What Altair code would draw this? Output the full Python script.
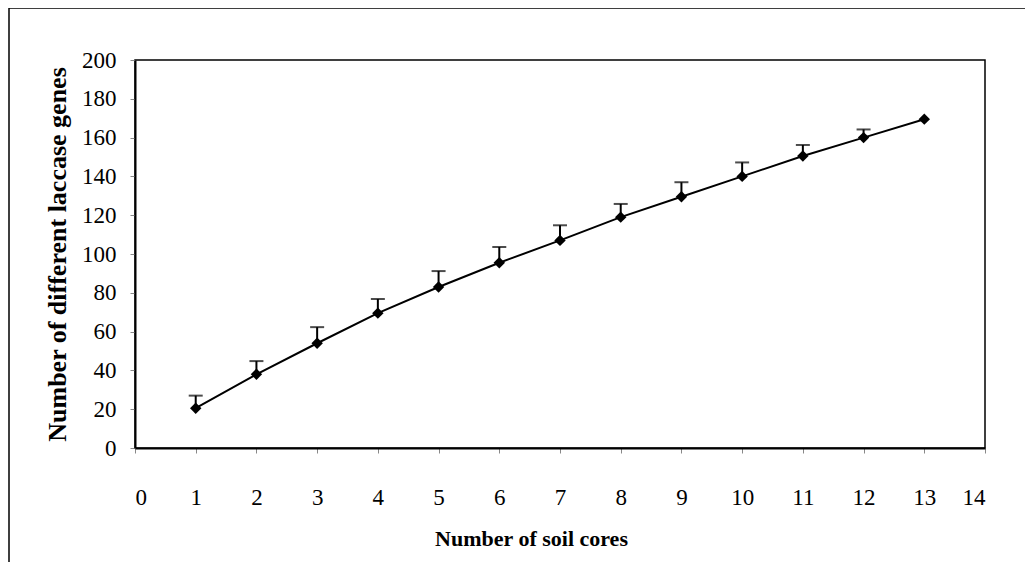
import altair as alt
import pandas as pd

cores = [1, 2, 3, 4, 5, 6, 7, 8, 9, 10, 11, 12, 13]
genes = [20.5, 38, 54, 69.5, 83, 95.5, 107, 119, 129.5, 140, 150.5, 160, 169.5]
err = [6.5, 6.8, 8.3, 7.3, 8.2, 8.1, 7.8, 6.8, 7.5, 7.2, 5.7, 4.2, 0]

df = pd.DataFrame({"cores": cores, "genes": genes, "err": err})
df["upper"] = df["genes"] + df["err"]
df_err = df[df["err"] > 0]

FONT = "Liberation Serif"
W, H = 850, 388

xaxis = alt.Axis(values=list(range(0, 15)), format="d", title="Number of soil cores",
                 titleX=396, titleY=90, titleAlign="center", titleBaseline="middle",
                 labelPadding=33, labelOverlap=False)
yaxis = alt.Axis(values=list(range(0, 201, 20)), format="d",
                 title="Number of different laccase genes",
                 titleX=-78, titleY=H / 2, titleAngle=270, titleAlign="center",
                 titleBaseline="middle", labelPadding=14, labelOverlap=False)
xs = alt.Scale(domain=[0, 14], nice=False)
ys = alt.Scale(domain=[0, 200], nice=False)

x = alt.X("cores:Q", scale=xs, axis=xaxis)
y = alt.Y("genes:Q", scale=ys, axis=yaxis)
yu = alt.Y("upper:Q", scale=ys, axis=yaxis)

base = alt.Chart(df)

line = base.mark_line(color="black", strokeWidth=2).encode(x=x, y=y)
pts = base.mark_point(shape="diamond", filled=True, color="black", size=130, opacity=1).encode(x=x, y=y)
rules = alt.Chart(df_err).mark_rule(color="black", strokeWidth=2).encode(x=x, y=y, y2="upper:Q")
caps = alt.Chart(df_err).mark_tick(color="black", orient="horizontal", size=14, thickness=2).encode(
    x=x, y=yu)

frame = alt.Chart(pd.DataFrame({"a": [0]})).mark_rect(
    fill=None, stroke="black", strokeWidth=1.5
).encode(x=alt.value(-126), x2=alt.value(960), y=alt.value(-52), y2=alt.value(580))

chart = alt.layer(line, rules, caps, pts, frame).properties(
    width=W, height=H,
    autosize=alt.AutoSizeParams(type="none"),
    padding={"left": 127, "top": 52, "right": 40, "bottom": 114},
).configure_view(stroke="black", strokeWidth=1.5).configure_axis(
    labelFont=FONT, titleFont=FONT, labelFontSize=23, titleFontSize=22,
    labelColor="black", titleColor="black", domainColor="black", domainWidth=2,
    tickColor="#888888", tickSize=5, tickWidth=1, grid=False, titleFontWeight="bold"
).configure_axisY(titleFontSize=26)

chart.save("out.html", embed_options={"renderer": "svg", "actions": False})
